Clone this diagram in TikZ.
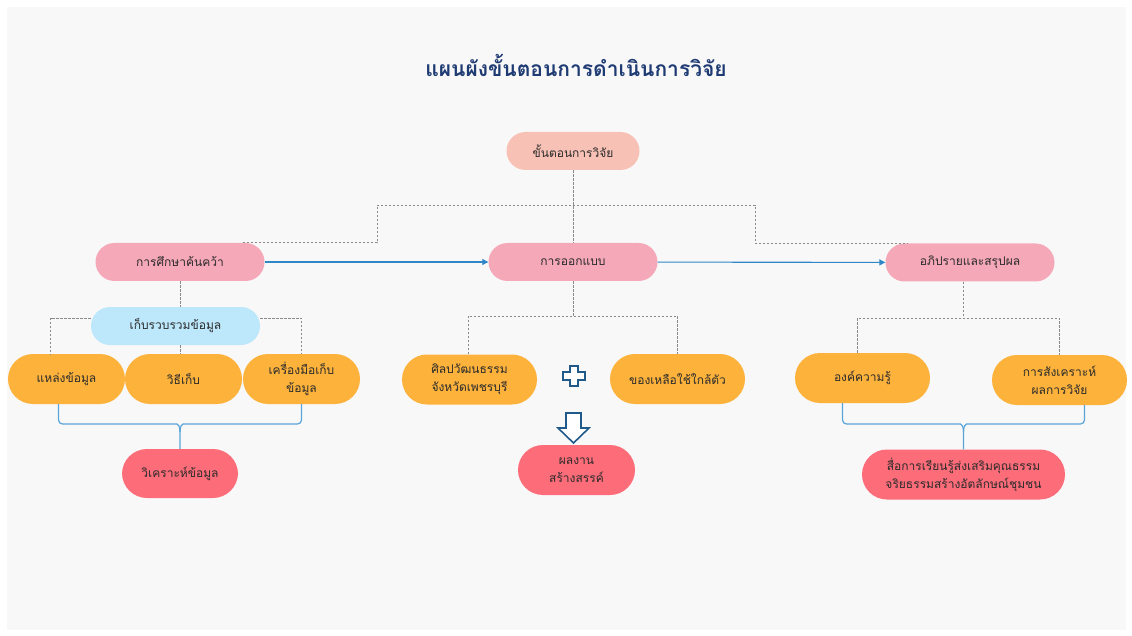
\documentclass[tikz,border=0pt]{standalone}
\usepackage{fontspec}
\newfontfamily\thai[Script=Thai]{Loma}
\usetikzlibrary{arrows.meta}
\definecolor{pagebg}{HTML}{F8F8F8}
\definecolor{titlec}{HTML}{1F3B73}
\definecolor{textc}{HTML}{2B2B2B}
\definecolor{salmon}{HTML}{F8C1B5}
\definecolor{pinkc}{HTML}{F5A8B8}
\definecolor{skyc}{HTML}{BDE7FB}
\definecolor{orangec}{HTML}{FDB23C}
\definecolor{redc}{HTML}{FD6C79}
\definecolor{dashc}{HTML}{8A8A8A}
\definecolor{flowc}{HTML}{2F87C8}
\definecolor{bracec}{HTML}{5AA5D8}
\definecolor{symc}{HTML}{1F5A8A}
\tikzset{
  pill/.style={draw=none, align=center, text=textc, inner sep=0pt,
    font=\thai\fontsize{12}{18}\selectfont},
  pillS/.style={pill, minimum height=38pt, rounded corners=19pt},
  pillL/.style={pill, minimum height=50pt, rounded corners=25pt},
  dl/.style={draw=dashc, line width=0.8pt, dash pattern=on 2.5pt off 1.5pt},
  flow/.style={draw=flowc, line width=1.1pt, -{Triangle[length=6pt,width=6pt]}},
  br/.style={draw=bracec, line width=1.2pt},
  sym/.style={draw=symc, fill=white, line width=1.6pt, line join=miter}
}
\begin{document}
\begin{tikzpicture}[x=1pt,y=-1pt]
\useasboundingbox (0,0) rectangle (1132,636);
\fill[white] (0,0) rectangle (1132,636);
\fill[pagebg] (7,7) rectangle (1126,630);

% title
\node[font=\thai\bfseries\fontsize{21}{24}\selectfont, text=titlec] (title) at (576,65) {แผนผังขั้นตอนการดำเนินการวิจัย};

% main steps
\node[pillS, fill=salmon, minimum width=133pt] (top) at (573,151) {ขั้นตอนการวิจัย};
\node[pillS, fill=pinkc, minimum width=169pt] (L2a) at (180,262) {การศึกษาค้นคว้า};
\node[pillS, fill=pinkc, minimum width=169pt] (L2b) at (573,262) {การออกแบบ};
\node[pillS, fill=pinkc, minimum width=169pt] (L2c) at (970,262.5) {อภิปรายและสรุปผล};

% research branch
\node[pillS, fill=skyc, minimum width=169pt] (collect) at (175.5,326) {เก็บรวบรวมข้อมูล};
\node[pillL, fill=orangec, minimum width=117pt] (o1) at (66.5,379) {แหล่งข้อมูล};
\node[pillL, fill=orangec, minimum width=117pt] (o2) at (183.5,379) {วิธีเก็บ};
\node[pillL, fill=orangec, minimum width=117pt] (o3) at (301.5,379) {เครื่องมือเก็บ\\ข้อมูล};
\node[pillL, fill=redc, minimum width=116pt, minimum height=49pt] (red1) at (180,473.5) {วิเคราะห์ข้อมูล};

% design branch
\node[pillL, fill=orangec, minimum width=135pt] (m1) at (469.5,379.5) {ศิลปวัฒนธรรม\\จังหวัดเพชรบุรี};
\node[pillL, fill=orangec, minimum width=135pt] (m2) at (677.5,379) {ของเหลือใช้ใกล้ตัว};
\node[pillL, fill=redc, minimum width=117pt] (red2) at (576.5,470) {ผลงาน\\สร้างสรรค์};

% discussion branch
\node[pillL, fill=orangec, minimum width=135pt] (r1) at (862.5,378) {องค์ความรู้};
\node[pillL, fill=orangec, minimum width=135pt] (r2) at (1059.5,380) {การสังเคราะห์\\ผลการวิจัย};
\node[pillL, fill=redc, minimum width=203pt] (red3) at (963.5,474.5) {สื่อการเรียนรู้ส่งเสริมคุณธรรม\\จริยธรรมสร้างอัตลักษณ์ชุมชน};

% dashed tree from the top step
\coordinate (hub) at (573,205);
\coordinate (kL) at (377,205);
\coordinate (kR) at (755,205);
\draw[dl] (top.south) -- (L2b.north);
\draw[dl] ([xshift=-22pt]L2a.north east) -| (kL) -- (kR) |- ([xshift=22pt]L2c.north west);

% flow arrows
\draw[flow] (L2a) -- (L2b);
\draw[flow] (L2b) -- (L2c);

% research subtree
\draw[dl] (L2a.south) -- (L2a.south |- collect.north);
\draw[dl] ([yshift=8pt]collect.west) -| ([xshift=-16pt]o1.north);
\draw[dl] ([yshift=8pt]collect.east) -| (o3.north);
\draw[dl] (collect.south -| L2a.south) -- (o2.north -| L2a.south);

% design subtree
\coordinate (mh) at (573,316);
\draw[dl] (L2b.south) -- (mh);
\draw[dl] ([xshift=-1.5pt]m1.north) |- (mh) -| (m2.north);

% discussion subtree
\coordinate (rh) at (963.5,318);
\draw[dl] (L2c.south -| rh) -- (rh);
\draw[dl] ([xshift=-5pt]r1.north) |- (rh) -| (r2.north);

% braces
\coordinate (b1) at (180,424);
\draw[br] ([xshift=-8pt]o1.south) [rounded corners=4pt] |- ([xshift=-7pt]b1) [sharp corners]
  .. controls ([xshift=-2pt]b1) and ([yshift=-2pt]b1) .. ([yshift=-8pt]b1) -- (red1.north);
\draw[br] (o3.south) [rounded corners=4pt] |- ([xshift=7pt]b1) [sharp corners]
  .. controls ([xshift=2pt]b1) and ([yshift=-2pt]b1) .. ([yshift=-8pt]b1);
\coordinate (b2) at (963.5,424);
\draw[br] ([xshift=-20pt]r1.south) [rounded corners=4pt] |- ([xshift=-7pt]b2) [sharp corners]
  .. controls ([xshift=-2pt]b2) and ([yshift=-2pt]b2) .. ([yshift=-8pt]b2) -- (red3.north);
\draw[br] ([xshift=25pt]r2.south) [rounded corners=4pt] |- ([xshift=7pt]b2) [sharp corners]
  .. controls ([xshift=2pt]b2) and ([yshift=-2pt]b2) .. ([yshift=-8pt]b2);

% plus sign and hollow down arrow
\draw[sym] (570,366) -- (578,366) -- (578,372) -- (585,372) -- (585,380) -- (578,380)
  -- (578,386) -- (570,386) -- (570,380) -- (563,380) -- (563,372) -- (570,372) -- cycle;
\draw[sym] (566,413) -- (581,413) -- (581,428) -- (589,428) -- (573.5,443) -- (558,428)
  -- (566,428) -- cycle;
\end{tikzpicture}
\end{document}
